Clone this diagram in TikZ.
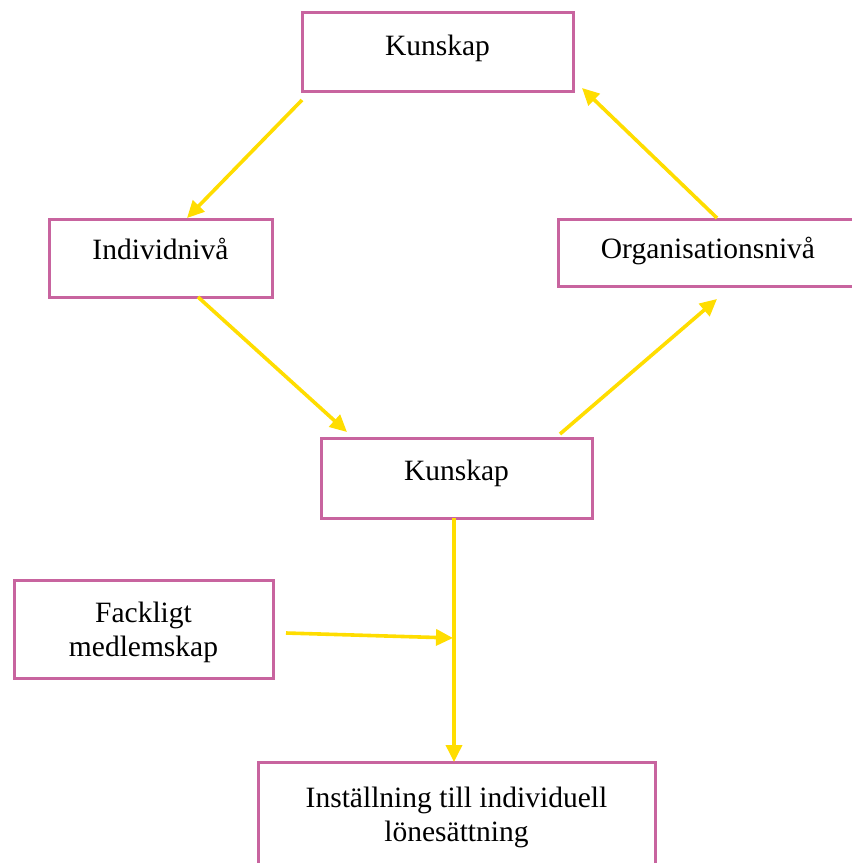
\documentclass[tikz,border=0pt]{standalone}
\usepackage{fontspec}
\setmainfont{Liberation Serif}
\usetikzlibrary{arrows.meta,calc}
\definecolor{boxpink}{HTML}{C8649F}
\definecolor{arrowyellow}{HTML}{FFDD00}
\tikzset{
  box/.style={draw=boxpink, line width=3pt, inner sep=0pt, outer sep=0pt, fill=white},
  txt/.style={font=\fontsize{29.5}{34}\selectfont, align=center, inner sep=0pt, anchor=base},
  conn/.style={draw=arrowyellow, line width=3.6pt, -{Triangle[length=17pt,width=16pt]}}
}
\begin{document}
\begin{tikzpicture}[x=1pt,y=-1pt]
\useasboundingbox (0,0) rectangle (852,863);
% boxes
\node[box, minimum width=271pt, minimum height=79pt] (k1) at (437.5,51.5) {};
\node[box, minimum width=223pt, minimum height=78pt] (ind) at (160.5,258) {};
\node[box, minimum width=300pt, minimum height=67pt] (org) at (708,252.5) {};
\node[box, minimum width=271pt, minimum height=80pt] (k2) at (456.5,478) {};
\node[box, minimum width=259pt, minimum height=98pt] (fack) at (143.5,629) {};
\node[box, minimum width=397pt, minimum height=120pt] (inst) at (456.5,822) {};
% texts
\node[txt] (k1t) at ([yshift=-43pt]k1.north) {Kunskap};
\node[txt] (indt) at ([yshift=-40pt]ind.north) {Individnivå};
\node[txt] (orgt) at ([yshift=-39pt]org.north) {Organisationsnivå};
\node[txt] (k2t) at ([yshift=-42pt]k2.north) {Kunskap};
\node[txt, anchor=north] (fackt) at ([yshift=-22pt]fack.north) {Fackligt\\medlemskap};
\node[txt, anchor=north] (instt) at ([yshift=-25pt]inst.north) {Inställning till individuell\\lönesättning};
% connector end points
\coordinate (a1s) at (302,100);
\coordinate (a1e) at (187,218);
\coordinate (a2s) at (198,297);
\coordinate (a2e) at (347,432);
\coordinate (a3s) at (560,434);
\coordinate (a3e) at (717,299);
\coordinate (a4s) at (717,218);
\coordinate (a4e) at (582,88);
\coordinate (a6s) at (286,633);
\coordinate (a6e) at (453,638);
% connectors
\draw[conn] (a1s) -- (a1e);
\draw[conn] (a2s) -- (a2e);
\draw[conn] (a3s) -- (a3e);
\draw[conn] (a4s) -- (a4e);
\draw[conn] (k2.south -| 454,0) -- (inst.north -| 454,0);
\draw[conn] (a6s) -- (a6e);
\end{tikzpicture}
\end{document}
